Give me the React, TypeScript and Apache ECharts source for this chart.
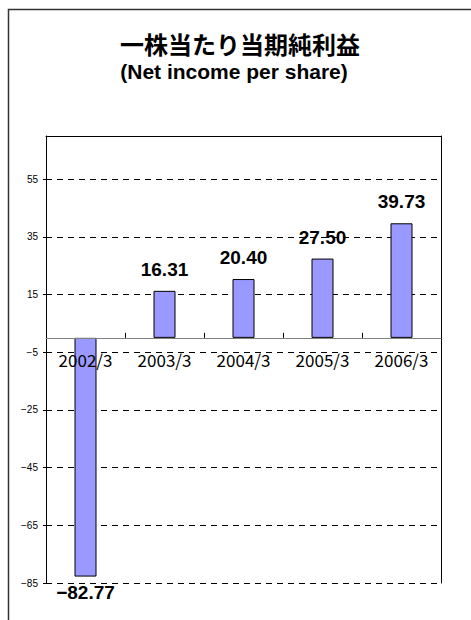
import React, { useEffect, useRef } from "react";
import * as echarts from "echarts";

const categories = ["2002/3", "2003/3", "2004/3", "2005/3", "2006/3"];
const epsValues = [-82.77, 16.31, 20.4, 27.5, 39.73];
const titleText = "一株当たり当期純利益";
const subtitleText = "(Net income per share)";
const yMin = -85;
const yMax = 70;
const yInterval = 20;

const minus = (s: string) => s.replace("-", "−");

export default function App() {
  const ref = useRef<HTMLDivElement>(null);
  useEffect(() => {
    if (!ref.current) return;
    const chart = echarts.init(ref.current, null, { renderer: "svg" });
    const valueFont = {
      fontFamily: "Liberation Sans, Arial, sans-serif",
      fontWeight: "bold",
      fontSize: 19,
      color: "#000",
    };
    chart.setOption({
      animation: false,
      backgroundColor: "#fff",
      graphic: [
        {
          type: "rect",
          shape: { x: 8.5, y: 9.5, width: 480, height: 640 },
          style: { fill: "none", stroke: "#333", lineWidth: 1.5 },
          z: -10,
        },
        {
          type: "text",
          x: 240,
          y: 43,
          style: {
            text: titleText,
            fontFamily: "Noto Sans CJK JP",
            fontWeight: "bold",
            fontSize: 24,
            lineHeight: 24,
            fill: "#000",
            align: "center",
            verticalAlign: "middle",
          },
        },
        {
          type: "text",
          x: 234,
          y: 71,
          style: {
            text: subtitleText,
            fontFamily: "Liberation Sans, Arial, sans-serif",
            fontWeight: "bold",
            fontSize: 21,
            lineHeight: 21,
            fill: "#000",
            align: "center",
            verticalAlign: "middle",
          },
        },
      ],
      grid: { left: 46, top: 136, right: 30, bottom: 37, containLabel: false },
      xAxis: [
        {
          type: "category",
          data: categories,
          z: 5,
          axisLine: {
            onZero: true,
            onZeroAxisIndex: 0,
            lineStyle: { color: "#808080", width: 1 },
          },
          axisTick: {
            show: true,
            inside: true,
            length: 5,
            lineStyle: { color: "#000" },
          },
          axisLabel: { show: false },
          splitLine: { show: false },
        },
        {
          type: "category",
          data: categories,
          position: "top",
          axisLine: { onZero: false, lineStyle: { color: "#000", width: 1 } },
          axisTick: { show: false },
          axisLabel: { show: false },
          splitLine: { show: false },
        },
      ],
      yAxis: [
        {
          type: "value",
          min: yMin,
          max: yMax,
          interval: yInterval,
          axisLine: { show: true, lineStyle: { color: "#000", width: 1 } },
          axisTick: { show: true, length: 3, lineStyle: { color: "#000" } },
          axisLabel: {
            showMaxLabel: false,
            margin: 8,
            fontFamily: "Liberation Sans, Arial, sans-serif",
            fontSize: 10,
            color: "#000",
            formatter: (v: number) => minus(String(v)),
          },
          splitLine: {
            show: true,
            lineStyle: { color: "#000", type: [6, 5], width: 1 },
          },
        },
        {
          type: "value",
          min: yMin,
          max: yMax,
          interval: yInterval,
          position: "right",
          axisLine: { show: true, lineStyle: { color: "#000", width: 1 } },
          axisTick: { show: false },
          axisLabel: { show: false },
          splitLine: { show: false },
        },
      ],
      series: [
        {
          type: "bar",
          xAxisIndex: 0,
          yAxisIndex: 0,
          barWidth: 22,
          itemStyle: { color: "#9999FF", borderColor: "#000", borderWidth: 1 },
          data: epsValues.map((v) => ({
            value: v,
            label: {
              show: true,
              position: v < 0 ? "bottom" : "top",
              distance: v < 0 ? 6 : 12,
              ...valueFont,
              formatter: () => minus(v.toFixed(2)),
            },
          })),
        },
        {
          type: "scatter",
          xAxisIndex: 0,
          yAxisIndex: 0,
          z: 10,
          symbolSize: 0,
          silent: true,
          itemStyle: { opacity: 1 },
          data: categories.map((c) => [c, 0]),
          label: {
            show: true,
            position: "bottom",
            distance: 13,
            opacity: 1,
            fontFamily: "Noto Sans CJK JP",
            fontWeight: "normal",
            fontSize: 17,
            color: "#000",
            formatter: (p: any) => p.value[0],
          },
        },
      ],
    });
    return () => chart.dispose();
  }, []);
  return (
    <div
      ref={ref}
      style={{ position: "fixed", left: 0, top: 0, width: 471, height: 620 }}
    />
  );
}
